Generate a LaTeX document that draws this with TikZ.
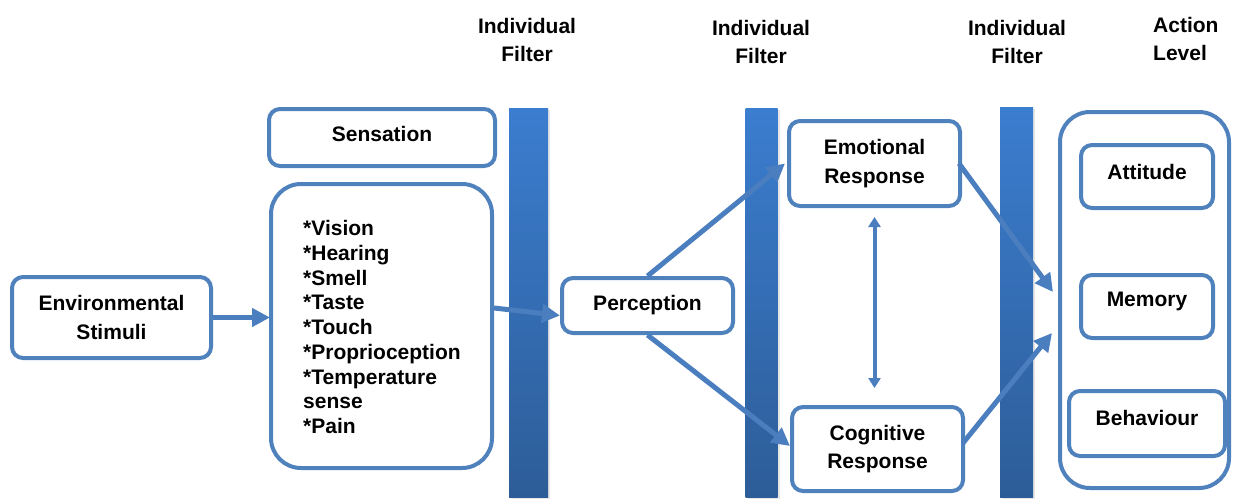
\documentclass[tikz,border=0pt]{standalone}
\usepackage{fontspec}
\setmainfont{Liberation Sans}
\usetikzlibrary{arrows.meta,shadows}
\definecolor{boxblue}{HTML}{4F81BD}
\definecolor{arrowblue}{HTML}{4A7EBE}
\definecolor{bartop}{HTML}{3B7DCF}
\definecolor{barbot}{HTML}{2D5D98}

\begin{document}
\begin{tikzpicture}[x=1pt,y=-1pt,
  every node/.style={font=\fontsize{21}{28.5}\selectfont\bfseries, inner sep=0pt, align=center},
  box/.style={draw=boxblue, line width=4pt, rounded corners=11pt, fill=white},
  bigbox/.style={box, rounded corners=30pt},
  filterbar/.style={draw=none, top color=bartop, bottom color=barbot,
    drop shadow={shadow xshift=2pt, shadow yshift=-2pt, opacity=0.2}},
  conn/.style={draw=arrowblue, line width=5pt, -{Triangle[length=18pt,width=18pt]}},
  twoway/.style={draw=arrowblue, line width=4pt,
    {Triangle[length=10pt,width=12pt]}-{Triangle[length=10pt,width=12pt]}}
]
\useasboundingbox (0,0) rectangle (1233,501);

% column headings
\node (h1) at (527,40) {Individual\\Filter};
\node (h2) at (761,42) {Individual\\Filter};
\node (h3) at (1017,42) {Individual\\Filter};
\node[anchor=west, align=left] (h4) at (1153,39) {Action\\Level};

% individual filters
\node[filterbar, minimum width=39pt, minimum height=389pt] (bar1) at (528.5,302.5) {};
\node[filterbar, minimum width=32pt, minimum height=389pt] (bar2) at (761.5,302.5) {};
\node[filterbar, minimum width=33pt, minimum height=390pt] (bar3) at (1016.5,302) {};

% stimuli and sensation
\node[box, minimum width=199pt, minimum height=81pt] (env) at (111.5,317.5) {Environmental\\Stimuli};
\node[box, minimum width=226pt, minimum height=57pt] (sens) at (382,137.5) {};
\node at (382,134) {Sensation};
\node[bigbox, minimum width=221pt, minimum height=284pt] (senses) at (381.5,326) {};
\node[anchor=west, align=left, font=\fontsize{21}{24.75}\selectfont\bfseries] (list) at (303,327)
  {*Vision\\*Hearing\\*Smell\\*Taste\\*Touch\\*Proprioception\\*Temperature\\sense\\*Pain};

% perception and responses
\node[box, minimum width=171pt, minimum height=55pt] (perc) at (647.5,305.5) {Perception};
\node[box, minimum width=171pt, minimum height=85pt] (emo) at (874.5,163.5) {Emotional\\Response};
\node[box, minimum width=171pt, minimum height=84pt] (cog) at (877.5,449) {Cognitive\\Response};

% action level
\node[bigbox, minimum width=169pt, minimum height=376pt] (act) at (1144.5,300) {};
\node[box, minimum width=132pt, minimum height=63pt] (att) at (1147,176.5) {};
\node at (1147,172) {Attitude};
\node[box, minimum width=132pt, minimum height=63pt] (mem) at (1147,306.5) {};
\node at (1147,301) {Memory};
\node[box, minimum width=156pt, minimum height=65pt] (beh) at (1147,423.5) {};
\node at (1147,418) {Behaviour};

% connectors
\draw[conn] (env.east) -- ([xshift=1pt]env.east -| senses.west);
\draw[conn] ([yshift=18pt]senses.east) -- ([yshift=-10pt]perc.west);
\draw[conn] (perc.north) -- ([xshift=-2pt]emo.west);
\draw[conn] (perc.south) -- ([yshift=3pt]cog.west);
\draw[conn] ([xshift=-3pt]emo.east) -- ([xshift=-5pt,yshift=8pt]act.west);
\draw[conn] ([xshift=-2pt,yshift=6pt]cog.east) -- ([xshift=-6pt,yshift=-33pt]act.west);
\draw[twoway] ([yshift=-9pt]emo.south) -- ([xshift=-3pt,yshift=17pt]cog.north);
\end{tikzpicture}
\end{document}
